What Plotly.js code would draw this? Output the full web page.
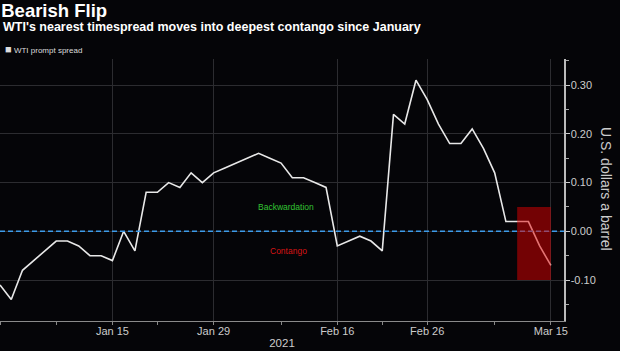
<!DOCTYPE html>
<html>
<head>
<meta charset="utf-8">
<script src="https://cdn.plot.ly/plotly-3.0.1.min.js"></script>
<style>
  html, body { margin: 0; padding: 0; background: #050508; }
  #chart { width: 620px; height: 351px; }
</style>
</head>
<body>
<div id="chart"></div>
<script>
// ---- Data ----
const dates = [
  '2020-12-31',
  '2021-01-04','2021-01-05','2021-01-06','2021-01-07','2021-01-08',
  '2021-01-11','2021-01-12','2021-01-13','2021-01-14','2021-01-15',
  '2021-01-19','2021-01-20','2021-01-21','2021-01-22',
  '2021-01-25','2021-01-26','2021-01-27','2021-01-28','2021-01-29',
  '2021-02-01','2021-02-02','2021-02-03','2021-02-04','2021-02-05',
  '2021-02-08','2021-02-09','2021-02-10','2021-02-11','2021-02-12',
  '2021-02-16','2021-02-17','2021-02-18','2021-02-19',
  '2021-02-22','2021-02-23','2021-02-24','2021-02-25','2021-02-26',
  '2021-03-01','2021-03-02','2021-03-03','2021-03-04','2021-03-05',
  '2021-03-08','2021-03-09','2021-03-10','2021-03-11','2021-03-12',
  '2021-03-15'
];
const promptSpread = [
  -0.11,
  -0.14, -0.08, -0.06, -0.04, -0.02,
  -0.02, -0.03, -0.05, -0.05, -0.06,
   0.00, -0.04,  0.08,  0.08,
   0.10,  0.09,  0.12,  0.10,  0.12,
   0.13,  0.14,  0.15,  0.16,  0.15,
   0.14,  0.11,  0.11,  0.10,  0.09,
  -0.03, -0.02, -0.01, -0.02,
  -0.04,  0.24,  0.22,  0.31,  0.27,
   0.22,  0.18,  0.18,  0.21,  0.17,
   0.12,  0.02,  0.02,  0.02, -0.03,
  -0.07
];
const holidays = ['2021-01-01', '2021-01-18', '2021-02-15'];
const xTickVals = ['2021-01-15', '2021-01-29', '2021-02-16', '2021-02-26', '2021-03-15'];
const xTickText = ['Jan 15', 'Jan 29', 'Feb 16', 'Feb 26', 'Mar 15'];
const xMinorTickVals = ['2020-12-31', '2021-01-08', '2021-01-22', '2021-02-08', '2021-02-22', '2021-03-08'];
const xRange = ['2020-12-31', '2021-03-16 04:00'];
const yTickVals = [-0.1, 0, 0.1, 0.2, 0.3];
const yTickText = ['-0.10', '0.00', '0.10', '0.20', '0.30'];
const yMinorTickVals = [-0.15, -0.05, 0.05, 0.15, 0.25, 0.35];
const yRange = [-0.184, 0.3535];
const highlightX = ['2021-03-10', '2021-03-15'];
const highlightY = [-0.10, 0.05];
const labelBack = {text: 'Backwardation', y: 0.05};
const labelCont = {text: 'Contango', y: -0.04};

const FONT = '"Liberation Sans", Arial, sans-serif';

const trace = {
  x: dates,
  y: promptSpread,
  type: 'scatter',
  mode: 'lines',
  name: 'WTI prompt spread',
  line: {color: '#e8e8e8', width: 1.6},
  showlegend: false,
  hoverinfo: 'x+y'
};

const layout = {
  width: 620,
  height: 351,
  margin: {l: 0, r: 56, t: 59, b: 30},
  paper_bgcolor: '#050508',
  plot_bgcolor: '#050508',
  font: {family: FONT, color: '#cccccc', size: 11},
  showlegend: false,
  title: {
    text: '<b>Bearish Flip</b>',
    x: 0.002, xanchor: 'left', xref: 'container',
    y: 1 - 11 / 351, yanchor: 'middle', yref: 'container',
    font: {family: FONT, size: 18.5, color: '#ffffff'}
  },
  xaxis: {
    type: 'date',
    range: xRange,
    rangebreaks: [{bounds: ['sat', 'mon']}, {values: holidays}],
    tickmode: 'array',
    tickvals: xTickVals,
    ticktext: xTickText,
    ticks: 'outside',
    ticklen: 3,
    tickcolor: '#888888',
    ticklabelstandoff: -3,
    showgrid: true,
    gridcolor: '#2c2c30',
    gridwidth: 1,
    showline: true,
    linecolor: '#8a8a8a',
    linewidth: 1,
    zeroline: false,
    tickfont: {family: FONT, size: 11, color: '#cccccc'},
    minor: {tickmode: 'array', tickvals: xMinorTickVals, ticks: 'outside', ticklen: 3, tickcolor: '#888888', showgrid: false},
    title: {text: '2021', standoff: 2, font: {family: FONT, size: 11.5, color: '#cccccc'}}
  },
  yaxis: {
    side: 'right',
    range: yRange,
    tickmode: 'array',
    tickvals: yTickVals,
    ticktext: yTickText,
    ticks: 'outside',
    ticklen: 4,
    tickcolor: '#cccccc',
    ticklabelstandoff: -1,
    showgrid: true,
    gridcolor: '#2c2c30',
    gridwidth: 1,
    showline: true,
    linecolor: '#bbbbbb',
    linewidth: 1.5,
    zeroline: false,
    tickfont: {family: FONT, size: 11, color: '#cccccc'},
    minor: {tickmode: 'array', tickvals: yMinorTickVals, ticks: 'outside', ticklen: 3, tickcolor: '#aaaaaa', showgrid: false}
  },
  shapes: [
    {
      type: 'line', xref: 'paper', yref: 'y',
      x0: 0, x1: 1, y0: 0, y1: 0,
      line: {color: '#3d9be9', width: 1.6, dash: '5px,3px'},
      layer: 'above'
    },
    {
      type: 'rect', xref: 'x', yref: 'y',
      x0: highlightX[0], x1: highlightX[1], y0: highlightY[0], y1: highlightY[1],
      fillcolor: 'rgba(225,0,0,0.5)',
      line: {width: 0},
      layer: 'above'
    }
  ],
  annotations: [
    {
      text: "<b>WTI's nearest timespread moves into deepest contango since January</b>",
      xref: 'paper', yref: 'paper', x: 0.002, y: (321 - 27) / 262,
      xanchor: 'left', yanchor: 'middle', showarrow: false,
      font: {family: FONT, size: 12.5, color: '#ffffff'}
    },
    {
      text: '<span style="font-size:11px">■</span> WTI prompt spread',
      xref: 'paper', yref: 'paper', x: 0.006, y: (321 - 49) / 262,
      xanchor: 'left', yanchor: 'middle', showarrow: false,
      font: {family: FONT, size: 8, color: '#dddddd'}
    },
    {
      text: labelBack.text,
      xref: 'paper', yref: 'y', x: 286 / 564, y: labelBack.y,
      xanchor: 'center', yanchor: 'middle', showarrow: false,
      font: {family: FONT, size: 8.5, color: '#33c433'}
    },
    {
      text: labelCont.text,
      xref: 'paper', yref: 'y', x: 288 / 564, y: labelCont.y,
      xanchor: 'center', yanchor: 'middle', showarrow: false,
      font: {family: FONT, size: 8.5, color: '#d81414'}
    },
    {
      text: 'U.S. dollars a barrel',
      xref: 'paper', yref: 'paper', x: 606 / 564, y: (321 - 189) / 262,
      xanchor: 'center', yanchor: 'middle', showarrow: false,
      textangle: 90,
      font: {family: FONT, size: 14, color: '#cccccc'}
    }
  ]
};

Plotly.newPlot('chart', [trace], layout, {displayModeBar: false, staticPlot: true});
</script>
</body>
</html>
